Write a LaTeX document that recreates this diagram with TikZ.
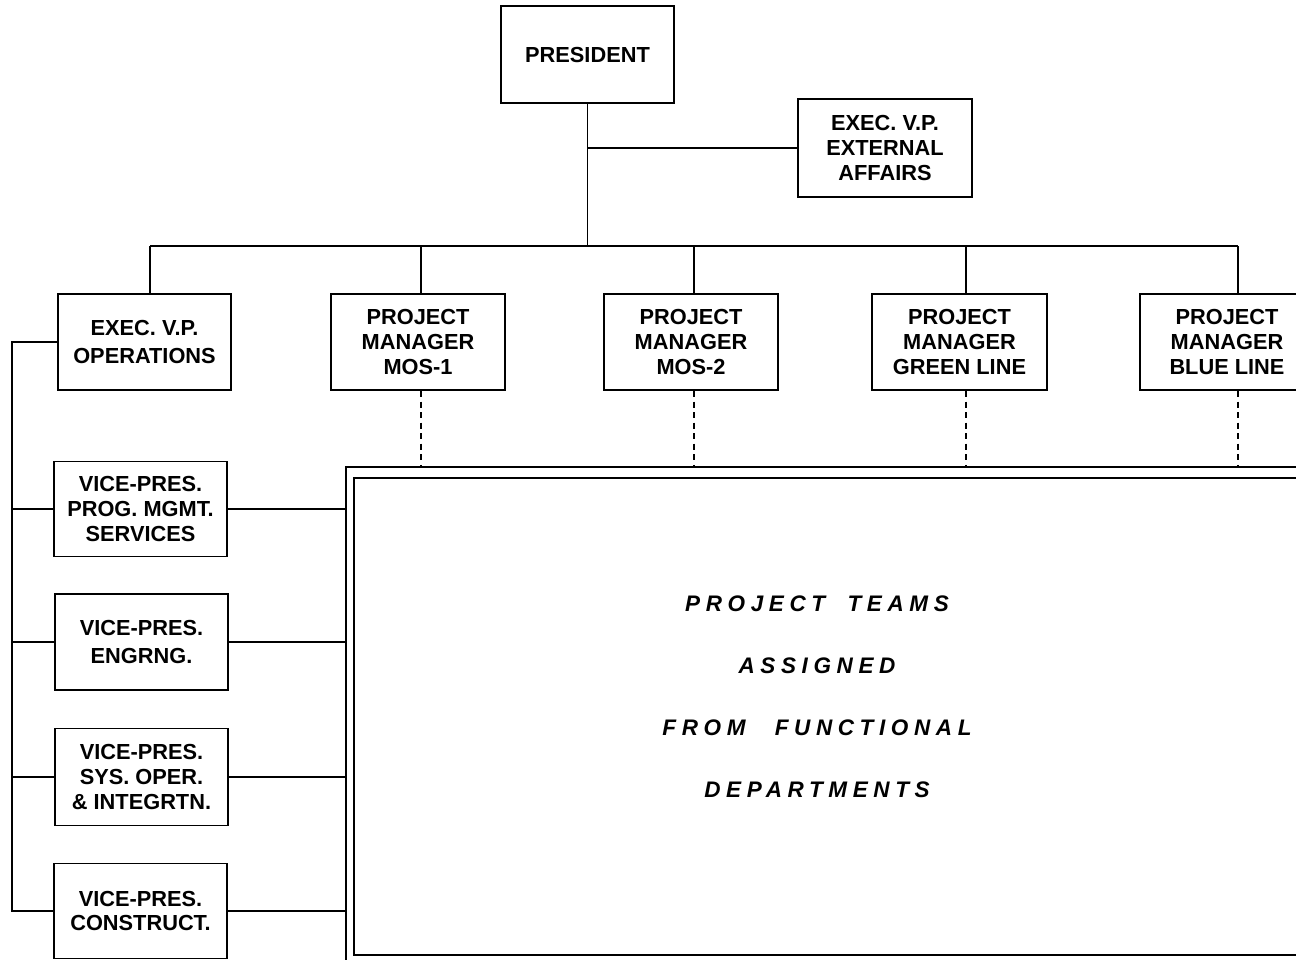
\documentclass[tikz,border=0pt]{standalone}
\usepackage{fontspec}
\setmainfont{Liberation Sans}
\begin{document}
\begin{tikzpicture}[x=0.02cm,y=-0.02cm,
  line width=1.1pt,
  box/.style={draw, line width=1.1pt, inner sep=0pt, align=center,
    font=\fontsize{12.4}{14.2}\selectfont\bfseries},
  teamtext/.style={inner sep=0pt, align=center,
    font=\fontsize{12.8}{35.3}\selectfont\bfseries\itshape\addfontfeature{LetterSpace=25}},
  dotted link/.style={dash pattern=on 3.5pt off 2.5pt}]
\useasboundingbox (0,0) rectangle (1296,960);
\clip (0,0) rectangle (1296,960);

% top of the chart
\node[box, minimum width=3.46cm, minimum height=1.94cm] (pres) at (587.5,54.5) {PRESIDENT};
\node[box, minimum width=3.48cm, minimum height=1.96cm] (ext) at (885,148) {EXEC. V.P.\\EXTERNAL\\AFFAIRS};

% second level
\node[box, minimum width=3.46cm, minimum height=1.92cm] (ops) at (144.5,342) {EXEC. V.P.\\[2pt]OPERATIONS};
\node[box, minimum width=3.48cm, minimum height=1.92cm] (mos1) at (418,342) {PROJECT\\MANAGER\\MOS-1};
\node[box, minimum width=3.48cm, minimum height=1.92cm] (mos2) at (691,342) {PROJECT\\MANAGER\\MOS-2};
\node[box, minimum width=3.50cm, minimum height=1.92cm] (green) at (959.5,342) {PROJECT\\MANAGER\\GREEN LINE};
\node[box, minimum width=3.48cm, minimum height=1.92cm] (blue) at (1227,342) {PROJECT\\MANAGER\\BLUE LINE};

% functional vice-presidents
\node[box, minimum width=3.46cm, minimum height=1.90cm] (vp1) at (140.5,509) {VICE-PRES.\\PROG. MGMT.\\SERVICES};
\node[box, minimum width=3.46cm, minimum height=1.92cm] (vp2) at (141.5,642) {VICE-PRES.\\[2pt]ENGRNG.};
\node[box, minimum width=3.46cm, minimum height=1.94cm] (vp3) at (141.5,777) {VICE-PRES.\\SYS. OPER.\\\& INTEGRTN.};
\node[box, minimum width=3.46cm, minimum height=1.90cm] (vp4) at (140.5,911) {VICE-PRES.\\CONSTRUCT.};

% project team area (double frame)
\node[draw, inner sep=0pt, minimum width=20.08cm, minimum height=10.16cm] (team) at (848,721) {};
\node[draw, inner sep=0pt, minimum width=19.76cm, minimum height=9.54cm] (teamin) at (848,716.5) {};
\node[teamtext] (teamtxt) at (817,696.5)
  {PROJECT\hspace{1.0em}TEAMS\\ASSIGNED\\FROM\hspace{1.3em}FUNCTIONAL\\DEPARTMENTS};

% reporting lines from the president
\coordinate (busL) at (150,246);
\coordinate (busR) at (1238,246);
\coordinate (t1) at (421,246);
\coordinate (t2) at (694,246);
\coordinate (t3) at (966,246);
\draw (pres.south) -- (pres.south |- busL);
\draw (ext.west) -- (ext.west -| pres.south);
\draw (busL) -- (busR);
\draw (busL) -- (busL |- ops.north);
\draw (t1) -- (t1 |- mos1.north);
\draw (t2) -- (t2 |- mos2.north);
\draw (t3) -- (t3 |- green.north);
\draw (busR) -- (busR |- blue.north);

% project managers direct the teams
\draw[dotted link] (t1 |- mos1.south) -- (t1 |- team.north);
\draw[dotted link] (t2 |- mos2.south) -- (t2 |- team.north);
\draw[dotted link] (t3 |- green.south) -- (t3 |- team.north);
\draw[dotted link] (busR |- blue.south) -- (busR |- team.north);

% operations spine
\coordinate (sp) at (12,342);
\draw (ops.west) -- (sp) -- (sp |- vp4.west) -- (vp4.west);
\foreach \v in {vp1,vp2,vp3}{
  \draw (sp |- \v.west) -- (\v.west);
}
% functional departments staff the teams
\foreach \v in {vp1,vp2,vp3,vp4}{
  \draw (\v.east) -- (\v.east -| team.west);
}
\end{tikzpicture}
\end{document}
